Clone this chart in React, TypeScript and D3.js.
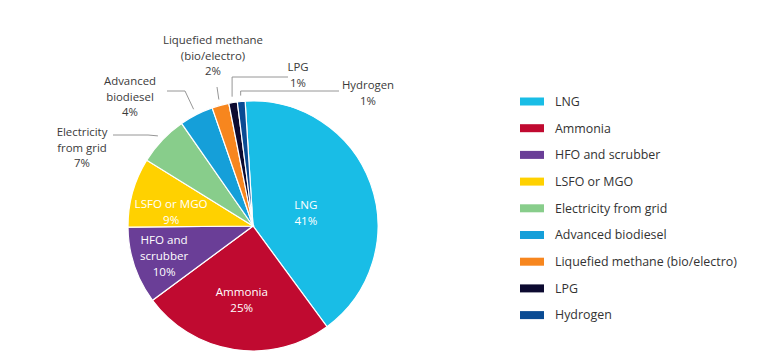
import React from 'react';
import * as d3 from 'd3';

const fuels = ["LNG", "Ammonia", "HFO and scrubber", "LSFO or MGO", "Electricity from grid", "Advanced biodiesel", "Liquefied methane (bio/electro)", "LPG", "Hydrogen"];
const shares = [41, 25, 10, 9, 6.5, 4.4, 2.2, 1.1, 1.0];
const pctLabels = ["41%", "25%", "10%", "9%", "7%", "4%", "2%", "1%", "1%"];
const sliceNames = [["LNG"], ["Ammonia"], ["HFO and", "scrubber"], ["LSFO or MGO"], ["Electricity", "from grid"], ["Advanced", "biodiesel"], ["Liquefied methane", "(bio/electro)"], ["LPG"], ["Hydrogen"]];
const colors = ["#19bde6", "#c00a30", "#6a3e97", "#ffd100", "#88cd8b", "#159fd9", "#f7861e", "#0c0a30", "#0a4b93"];

const W = 776, H = 364;
const cx = 253, cy = 226, R = 125;
const font = "'Open Sans', sans-serif";

// inner label placement (fraction of radius, vertical nudge)
const innerPos = [[0.45, 6], [0.6, 0], [0.75, 0], [0.68, 9]];
// outer label layout: text centre x, first baseline, leader start, elbow
const outerPos: any = {
  4: { x: 82, y: 136, tail: [113, 135], hook: [148, 135] },
  5: { x: 130, y: 85, tail: [167, 91], hook: [185, 91] },
  6: { x: 213, y: 44, tail: [217, 87], hook: null },
  7: { x: 298, y: 71, tail: [288, 77], vertical: true },
  8: { x: 368, y: 89, tail: [339, 91], vertical: true },
};

export default function App() {
  const start = -0.063;
  const pie = d3.pie<number>().sort(null).value(d => d).startAngle(start).endAngle(start + 2 * Math.PI);
  const arcs = pie(shares);
  const arc = d3.arc<d3.PieArcDatum<number>>().innerRadius(0).outerRadius(R);

  const polar = (a: number, r: number) => [cx + r * Math.sin(a), cy - r * Math.cos(a)];

  return (
    <svg width={W} height={H} style={{ position: 'absolute', left: 0, top: 0, background: '#fff' }}>
      <g transform={`translate(${cx},${cy})`}>
        {arcs.map((a, i) => (
          <path key={i} d={arc(a) || ''} fill={colors[i]} stroke="#fff" strokeWidth={1.2} />
        ))}
      </g>
      {arcs.slice(0, 4).map((a, i) => {
        const mid = (a.startAngle + a.endAngle) / 2;
        const [x, y] = polar(mid, innerPos[i][0] * R);
        const lines = [...sliceNames[i], pctLabels[i]];
        const lh = 15.8;
        const y0 = y + innerPos[i][1] - ((lines.length - 1) * lh) / 2 + 4;
        return (
          <g key={i}>
            {lines.map((t, j) => (
              <text key={j} x={x} y={y0 + j * lh} textAnchor="middle" fill="#fff" fontFamily={font} fontSize={11.6}>{t}</text>
            ))}
          </g>
        );
      })}
      {arcs.slice(4).map((a, k) => {
        const i = k + 4;
        const p = outerPos[i];
        const mid = (a.startAngle + a.endAngle) / 2;
        const end = polar(mid, R + 6);
        const pts: number[][] = [p.tail];
        if (p.vertical) pts.push([end[0], p.tail[1]]);
        else if (p.hook) pts.push(p.hook);
        pts.push(end);
        const lines = [...sliceNames[i], pctLabels[i]];
        return (
          <g key={i}>
            <path d={d3.line()(pts as [number, number][]) || ''} fill="none" stroke="#8a8a8a" strokeWidth={0.9} />
            {lines.map((t, j) => (
              <text key={j} x={p.x} y={p.y + j * 15.6} textAnchor="middle" fill="#3a3a3a" fontFamily={font} fontSize={11.4}>{t}</text>
            ))}
          </g>
        );
      })}
      <g transform="translate(520,101.5)">
        {fuels.map((f, i) => (
          <g key={f} transform={`translate(0,${i * 26.7})`}>
            <rect x={0} y={-4} width={24} height={8} fill={colors[i]} />
            <text x={35} y={4.3} fill="#333" fontFamily={font} fontSize={12.4}>{f}</text>
          </g>
        ))}
      </g>
    </svg>
  );
}
